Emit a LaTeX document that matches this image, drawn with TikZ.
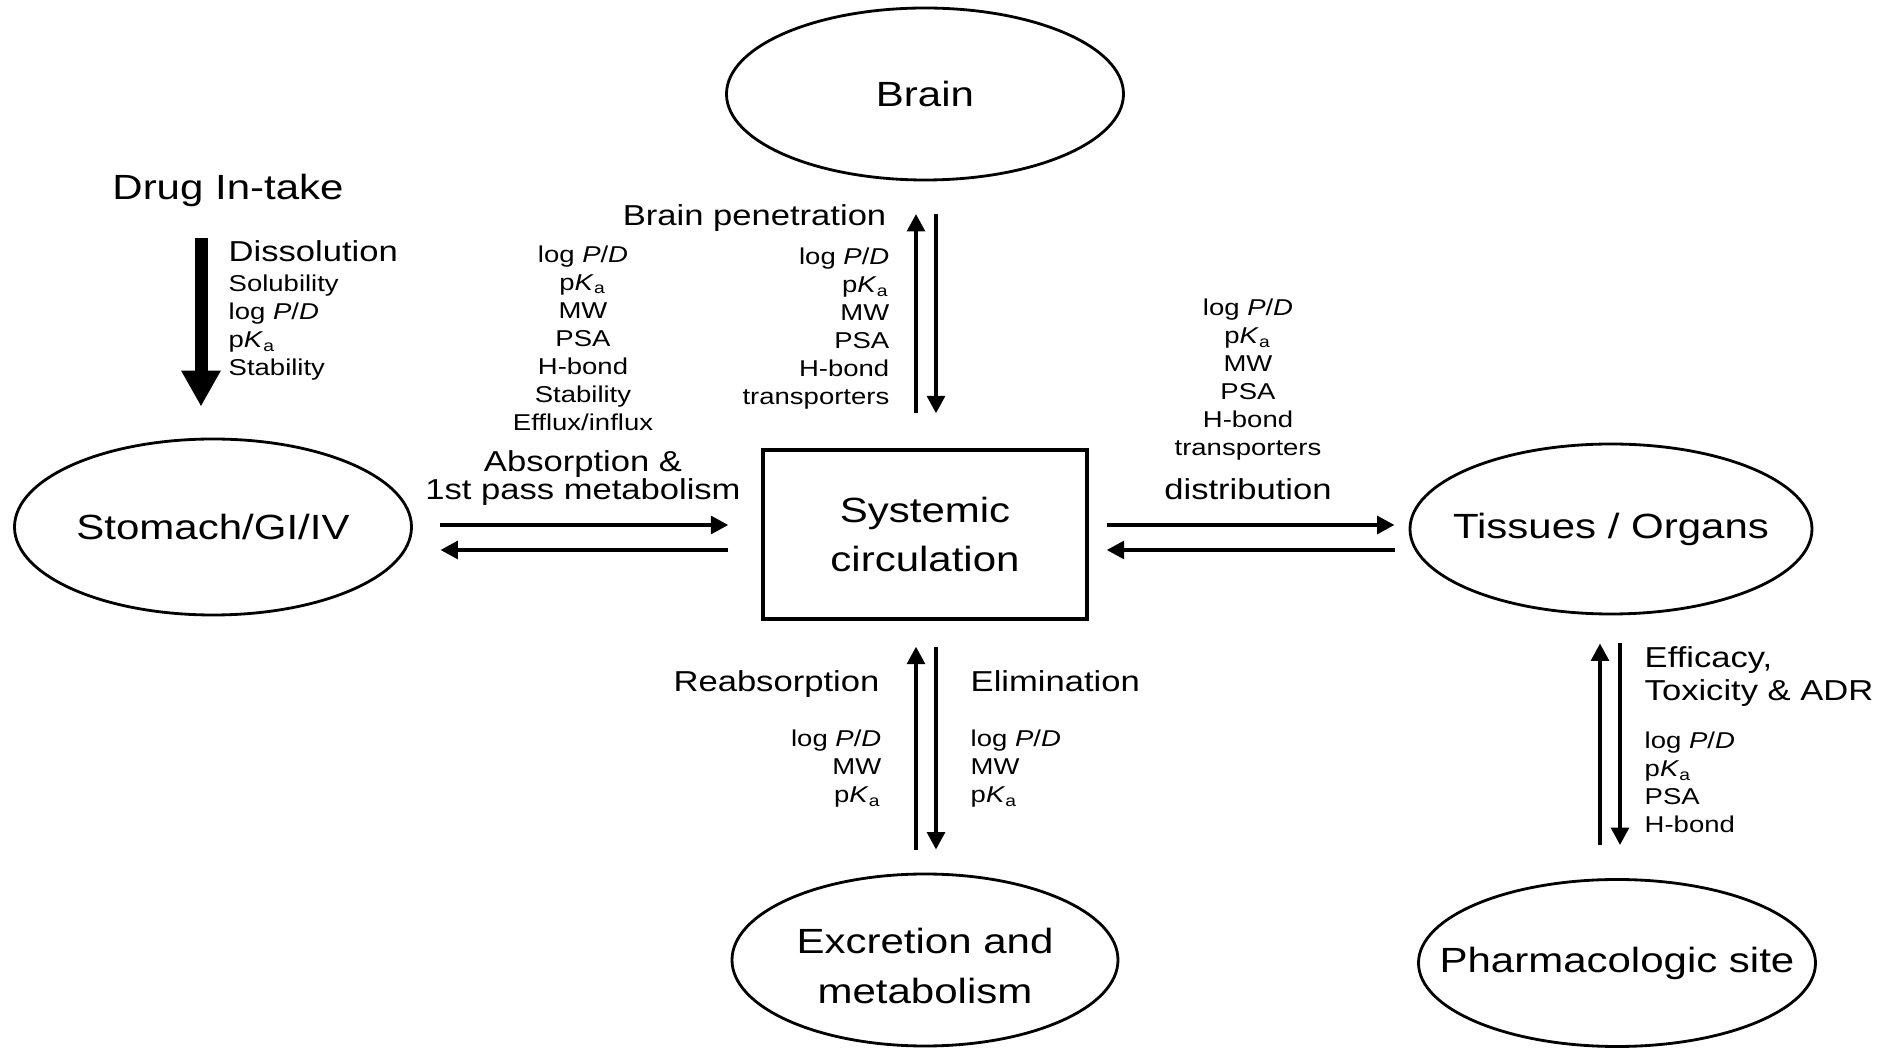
\documentclass[tikz,border=0pt]{standalone}
\usepackage{fontspec}
\setmainfont{Liberation Sans}[FakeStretch=1.2]
\usetikzlibrary{shapes.geometric,arrows.meta}

\newcommand{\bigtxt}{\fontsize{9.96pt}{13.7pt}\selectfont}
\newcommand{\midtxt}{\fontsize{8.2pt}{8.25pt}\selectfont}
\newcommand{\smalltxt}{\fontsize{6.52pt}{8.0pt}\selectfont}
\newcommand{\logpd}{log \textit{P}/\textit{D}}
\newcommand{\pka}{p\textit{K}\textsubscript{a}}

\begin{document}
\begin{tikzpicture}[
    organtext/.style={inner sep=0pt, font=\bigtxt, align=center},
    organ/.style={draw, ellipse, line width=0.8pt, minimum width=3.97cm, minimum height=1.72cm,
      inner sep=0pt, label={[organtext]center:#1}},
    flow/.style={line width=1.2pt, -{Triangle[length=1.75mm,width=1.75mm]}},
    procname/.style={inner sep=0pt, font=\midtxt},
    props/.style={inner sep=0pt, font=\smalltxt}]
    \useasboundingbox (0,0) rectangle (18.98,10.5);

    \node[organ={Brain}] (brain) at (9.25,9.56) {};
    \node[organ={Stomach/GI/IV}, minimum height=1.76cm] (stomach) at (2.13,5.23) {};
    \node[organ={Tissues / Organs}, minimum width=4.02cm, minimum height=1.70cm] (tissues) at (16.11,5.21) {};
    \node[organ={}, minimum width=3.86cm,
      label={[organtext, yshift=-0.06cm]center:Excretion and\\[0.6pt]metabolism}] (excretion) at (9.25,0.90) {};
    \node[organ={Pharmacologic site}, minimum height=1.67cm] (pharm) at (16.17,0.87) {};
    \node[draw, line width=0.9pt, minimum width=3.24cm, minimum height=1.69cm, inner sep=0pt,
      font=\bigtxt, align=center] (sys) at (9.25,5.155) {Systemic\\circulation};

    % drug in-take
    \node[inner sep=0pt, font=\bigtxt, anchor=base] (drug) at (2.28,8.50) {Drug In-take};
    \draw[line width=1.3mm, -{Triangle[length=3.6mm,width=3.7mm]}, shorten <=0.3cm, shorten >=0.31cm]
      ([xshift=-0.12cm]stomach.north |- drug.south) -- ([xshift=-0.12cm]stomach.north);
    \node[procname, anchor=base west] (dissol) at (2.28,7.88) {Dissolution};
    \node[props, anchor=base west, align=left] (dissolprops) at (2.28,6.74) {Solubility\\\logpd\\\pka\\Stability};

    % stomach <-> circulation
    \draw[flow, shorten <=0.275cm, shorten >=0.33cm]
      ([yshift=0.095cm]sys.west -| stomach.east) -- ([yshift=0.095cm]sys.west);
    \draw[flow, shorten <=0.33cm, shorten >=0.275cm]
      ([yshift=-0.155cm]sys.west) -- ([yshift=-0.155cm]sys.west -| stomach.east);
    \node[props, anchor=base, align=center] (absprops) at (5.83,6.19)
      {\logpd\\\pka\\MW\\PSA\\H-bond\\Stability\\Efflux/influx};
    \node[procname, anchor=base, align=center] (abslbl) at (5.83,5.50) {Absorption \&\\1st pass metabolism};

    % brain <-> circulation
    \draw[flow, shorten <=0.35cm, shorten >=0.325cm]
      ([xshift=-0.09cm]sys.north) -- ([xshift=-0.09cm]sys.north |- brain.south);
    \draw[flow, shorten <=0.325cm, shorten >=0.35cm]
      ([xshift=0.11cm]sys.north |- brain.south) -- ([xshift=0.11cm]sys.north);
    \node[procname, anchor=base east] (brainlbl) at (8.87,8.24) {Brain penetration};
    \node[props, anchor=base east, align=right] (brainprops) at (8.90,6.45)
      {\logpd\\\pka\\MW\\PSA\\H-bond\\transporters};

    % circulation <-> tissues
    \draw[flow, shorten <=0.18cm, shorten >=0.14cm]
      ([yshift=0.095cm]sys.east) -- ([yshift=0.095cm]sys.east -| tissues.west);
    \draw[flow, shorten <=0.14cm, shorten >=0.18cm]
      ([yshift=-0.155cm]sys.east -| tissues.west) -- ([yshift=-0.155cm]sys.east);
    \node[props, anchor=base, align=center] (distprops) at (12.48,5.94)
      {\logpd\\\pka\\MW\\PSA\\H-bond\\transporters};
    \node[procname, anchor=base] (distlbl) at (12.48,5.50) {distribution};

    % circulation <-> excretion
    \draw[flow, shorten <=0.23cm, shorten >=0.26cm]
      ([xshift=-0.09cm]excretion.north) -- ([xshift=-0.09cm]excretion.north |- sys.south);
    \draw[flow, shorten <=0.26cm, shorten >=0.23cm]
      ([xshift=0.11cm]excretion.north |- sys.south) -- ([xshift=0.11cm]excretion.north);
    \node[procname, anchor=base east] (reabslbl) at (8.80,3.58) {Reabsorption};
    \node[procname, anchor=base west] (elimlbl) at (9.70,3.58) {Elimination};
    \node[props, anchor=base east, align=right] (reabsprops) at (8.82,2.47) {\logpd\\MW\\\pka};
    \node[props, anchor=base west, align=left] (elimprops) at (9.70,2.47) {\logpd\\MW\\\pka};

    % tissues <-> pharmacologic site
    \draw[flow, shorten <=0.33cm, shorten >=0.28cm]
      ([xshift=-0.11cm]tissues.south |- pharm.north) -- ([xshift=-0.11cm]tissues.south);
    \draw[flow, shorten <=0.28cm, shorten >=0.33cm]
      ([xshift=0.09cm]tissues.south) -- ([xshift=0.09cm]tissues.south |- pharm.north);
    \node[procname, anchor=base west, align=left, font={\fontsize{8.2pt}{9.4pt}\selectfont}] (efflbl) at (16.44,3.49)
      {Efficacy,\\Toxicity \& ADR};
    \node[props, anchor=base west, align=left] (effprops) at (16.44,2.17) {\logpd\\\pka\\PSA\\H-bond};
\end{tikzpicture}
\end{document}
